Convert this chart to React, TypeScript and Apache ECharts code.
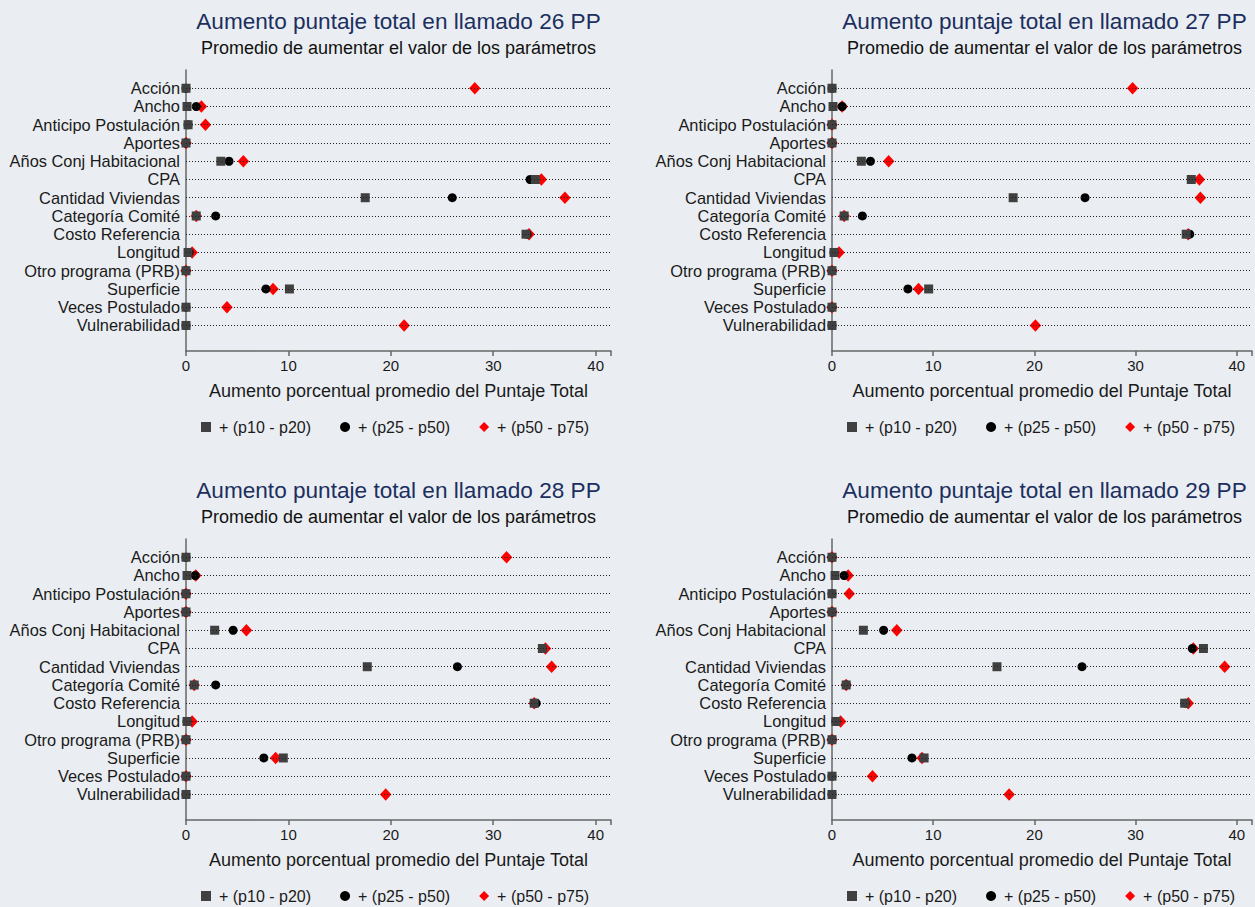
import React, { useEffect, useRef } from "react";
import * as echarts from "echarts";

const categories = [
  "Acción",
  "Ancho",
  "Anticipo Postulación",
  "Aportes",
  "Años Conj Habitacional",
  "CPA",
  "Cantidad Viviendas",
  "Categoría Comité",
  "Costo Referencia",
  "Longitud",
  "Otro programa (PRB)",
  "Superficie",
  "Veces Postulado",
  "Vulnerabilidad",
];

const seriesNames = ["+ (p10 - p20)", "+ (p25 - p50)", "+ (p50 - p75)"];
const xTicks = [0, 10, 20, 30, 40];

// Llamado 26
const p26_p10 = [0, 0.1, 0.2, 0, 3.4, 34.1, 17.5, 1.0, 33.2, 0.2, 0, 10.1, 0, 0];
const p26_p25 = [0, 1.0, 0.2, 0, 4.2, 33.6, 26.0, 2.9, 33.3, 0.3, 0, 7.8, 0, 0];
const p26_p50 = [28.2, 1.5, 1.9, 0, 5.6, 34.7, 37.0, 1.0, 33.5, 0.6, 0, 8.5, 4.0, 21.3];
// Llamado 27
const p27_p10 = [0, 0.1, 0, 0, 2.9, 35.5, 17.9, 1.2, 35.0, 0.2, 0, 9.55, 0, 0];
const p27_p25 = [0, 1.0, 0, 0, 3.8, 35.5, 25.0, 3.0, 35.35, 0.2, 0, 7.5, 0, 0];
const p27_p50 = [29.7, 1.0, 0, 0, 5.6, 36.3, 36.4, 1.2, 35.2, 0.7, 0, 8.55, 0, 20.1];
// Llamado 28
const p28_p10 = [0, 0.1, 0, 0, 2.8, 34.8, 17.7, 0.8, 34.0, 0.1, 0, 9.5, 0, 0];
const p28_p25 = [0, 0.9, 0, 0, 4.6, 34.8, 26.5, 2.9, 34.2, 0.1, 0, 7.6, 0, 0];
const p28_p50 = [31.3, 0.95, 0, 0, 5.9, 35.1, 35.7, 0.8, 34.0, 0.6, 0, 8.75, 0, 19.5];
// Llamado 29
const p29_p10 = [0, 0.3, 0, 0, 3.1, 36.7, 16.3, 1.4, 34.85, 0.4, 0, 9.1, 0, 0];
const p29_p25 = [0, 1.2, 0, 0, 5.1, 35.6, 24.7, 1.4, 34.9, 0.4, 0, 7.9, 0, 0];
const p29_p50 = [0, 1.6, 1.7, 0, 6.4, 35.7, 38.8, 1.4, 35.2, 0.85, 0, 8.9, 4.0, 17.5];

const panels = [
  { llamado: "26", p10: p26_p10, p25: p26_p25, p50: p26_p50 },
  { llamado: "27", p10: p27_p10, p25: p27_p25, p50: p27_p50 },
  { llamado: "28", p10: p28_p10, p25: p28_p25, p50: p28_p50 },
  { llamado: "29", p10: p29_p10, p25: p29_p25, p50: p29_p50 },
];

const FONT = '"Liberation Sans", Arial, sans-serif';

export default function App() {
  const ref = useRef<HTMLDivElement>(null);

  useEffect(() => {
    if (!ref.current) return;
    const chart = echarts.init(ref.current, null, { renderer: "svg" });

    const lefts = [186, 832, 186, 832];
    const tops = [70, 70, 539, 539];
    const plotW = 425;
    const plotH = 281;
    const xMax = 41.5;

    const grids: any[] = [];
    const xAxes: any[] = [];
    const yAxes: any[] = [];
    const titles: any[] = [];
    const legends: any[] = [];
    const series: any[] = [];

    panels.forEach((p, i) => {
      const left = lefts[i];
      const top = tops[i];
      const cx = left + plotW / 2;
      grids.push({ left, top, width: plotW, height: plotH, containLabel: false });
      xAxes.push({
        gridIndex: i,
        type: "value",
        min: 0,
        max: xMax,
        interval: 10,
        name: "Aumento porcentual promedio del Puntaje Total",
        nameLocation: "middle",
        nameGap: 31,
        nameTextStyle: { fontFamily: FONT, fontSize: 18, color: "#1a1a1a" },
        axisLine: { onZero: false, lineStyle: { color: "#666666", width: 1.5 } },
        axisTick: { show: true, length: 5, lineStyle: { color: "#666666", width: 1.5 } },
        axisLabel: {
          fontFamily: FONT,
          fontSize: 15,
          color: "#1a1a1a",
          margin: 7,
          formatter: (v: number) => (xTicks.includes(v) ? String(v) : ""),
        },
        splitLine: { show: false },
      });
      yAxes.push({
        gridIndex: i,
        type: "value",
        inverse: true,
        min: -1,
        max: 14.4,
        interval: 1,
        axisLine: { show: true, onZero: false, lineStyle: { color: "#666666", width: 1.5 } },
        axisTick: { show: false },
        axisLabel: {
          fontFamily: FONT,
          fontSize: 16.4,
          color: "#1a1a1a",
          margin: 6,
          showMinLabel: true,
          showMaxLabel: true,
          formatter: (v: number) => {
            const k = Math.round(v);
            return Math.abs(v - k) < 1e-6 && k >= 0 && k < categories.length ? categories[k] : "";
          },
        },
        splitLine: { show: false },
      });
      titles.push({
        text: "Aumento puntaje total en llamado " + p.llamado + " PP",
        left: cx,
        top: top - 60,
        textAlign: "center",
        padding: 0,
        textStyle: { fontFamily: FONT, fontSize: 22.6, fontWeight: "normal", color: "#1c2f5e" },
      });
      titles.push({
        text: "Promedio de aumentar el valor de los parámetros",
        left: cx,
        top: top - 31,
        textAlign: "center",
        padding: 0,
        textStyle: { fontFamily: FONT, fontSize: 18, fontWeight: "normal", color: "#111111" },
      });
      legends.push({
        left: left + 15,
        top: top + plotH + 68,
        padding: 0,
        itemWidth: 10,
        itemHeight: 10,
        itemGap: 29,
        selectedMode: false,
        textStyle: { fontFamily: FONT, fontSize: 16, color: "#1a1a1a", padding: [0, 0, 0, 3] },
        data: [
          { name: seriesNames[0], icon: "rect" },
          { name: seriesNames[1], icon: "circle" },
          { name: seriesNames[2], icon: "diamond" },
        ],
      });

      // dotted guide lines for each category
      series.push({
        type: "line",
        name: "guides" + i,
        xAxisIndex: i,
        yAxisIndex: i,
        data: [],
        silent: true,
        z: 1,
        markLine: {
          silent: true,
          symbol: ["none", "none"],
          label: { show: false },
          lineStyle: { type: [1, 2], color: "#222222", width: 1 },
          emphasis: { disabled: true },
          data: categories.map((_, k) => ({ yAxis: k })),
        },
      });
      series.push({
        type: "scatter",
        name: seriesNames[2],
        xAxisIndex: i,
        yAxisIndex: i,
        symbol: "diamond",
        symbolSize: [11.5, 12.5],
        z: 2,
        itemStyle: { color: "#ff0000", opacity: 1 },
        data: p.p50.map((v, k) => [v, k]),
      });
      series.push({
        type: "scatter",
        name: seriesNames[1],
        xAxisIndex: i,
        yAxisIndex: i,
        symbol: "circle",
        symbolSize: 9,
        z: 3,
        itemStyle: { color: "#000000", opacity: 1 },
        data: p.p25.map((v, k) => [v, k]),
      });
      series.push({
        type: "scatter",
        name: seriesNames[0],
        xAxisIndex: i,
        yAxisIndex: i,
        symbol: "rect",
        symbolSize: 9,
        z: 4,
        itemStyle: { color: "#404040", opacity: 1 },
        data: p.p10.map((v, k) => [v, k]),
      });
    });

    chart.setOption({
      animation: false,
      backgroundColor: "#eaeef2",
      textStyle: { fontFamily: FONT },
      title: titles,
      legend: legends,
      grid: grids,
      xAxis: xAxes,
      yAxis: yAxes,
      series,
    });

    return () => {
      chart.dispose();
    };
  }, []);

  return (
    <div
      ref={ref}
      style={{ position: "fixed", left: 0, top: 0, width: 1255, height: 907, background: "#eaeef2" }}
    />
  );
}
